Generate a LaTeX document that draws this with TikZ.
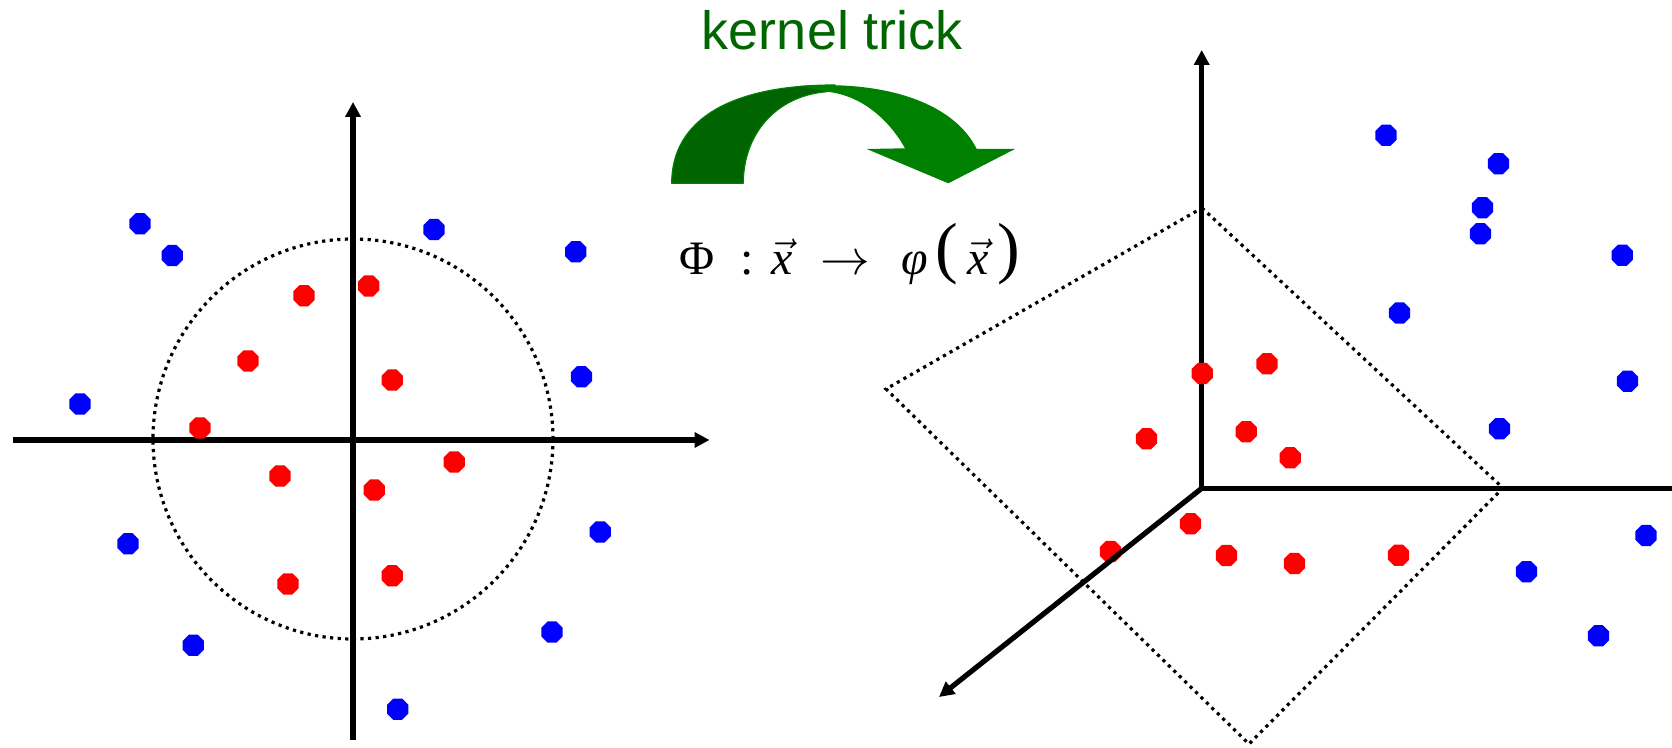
\documentclass[tikz,border=0pt]{standalone}
\usepackage{fontspec}
\setmainfont{Liberation Serif}
\newfontfamily\labelsans{Liberation Sans}
\usetikzlibrary{arrows.meta,shapes.geometric}
\definecolor{dotblue}{RGB}{0,0,255}
\definecolor{dotred}{RGB}{255,0,0}
\definecolor{arrowdark}{RGB}{0,100,0}
\definecolor{arrowlight}{RGB}{0,128,0}
\definecolor{textgreen}{RGB}{0,102,0}
\begin{document}
\begin{tikzpicture}[x=0.5pt,y=-0.5pt,
 axis/.style={line width=2.6pt,-{Triangle[length=7.5pt,width=7.5pt]}},
 axisplain/.style={line width=2.6pt},
 dotline/.style={line width=1.6pt,dash pattern=on 1.6pt off 2.2pt},
 bdot/.style={regular polygon,regular polygon sides=8,fill=dotblue,inner sep=0pt,minimum size=11.5pt},
 rdot/.style={bdot,fill=dotred},
 formula/.style={font=\fontsize{24}{29}\selectfont,inner sep=0pt,anchor=base},
 paren/.style={font=\fontsize{34}{40}\selectfont,inner sep=0pt,anchor=base}]
\useasboundingbox (0,0) rectangle (1672,748);

% ---------- left panel ----------
\node[circle,draw,dotline,minimum size=200pt,inner sep=0pt] (circ) at (353,439) {};
\coordinate (Lx0) at (12.7,440);
\coordinate (Lx1) at (709.5,440);
\coordinate (Ly0) at (353,740);
\coordinate (Ly1) at (353,102);
\draw[axis] (Lx0) -- (Lx1);
\draw[axis] (Ly0) -- (Ly1);

\node[bdot] (lb1) at (140.1,223.7) {};
\node[bdot] (lb2) at (172.2,255.6) {};
\node[bdot] (lb3) at (434.0,229.6) {};
\node[bdot] (lb4) at (575.8,251.8) {};
\node[bdot] (lb5) at (80.0,404.0) {};
\node[bdot] (lb6) at (581.4,376.7) {};
\node[bdot] (lb7) at (128.1,543.8) {};
\node[bdot] (lb8) at (600.2,531.9) {};
\node[bdot] (lb9) at (193.3,645.3) {};
\node[bdot] (lb10) at (552.0,632.1) {};
\node[bdot] (lb11) at (397.7,709.2) {};

\node[rdot] (lr1) at (304.0,295.7) {};
\node[rdot] (lr2) at (368.7,285.9) {};
\node[rdot] (lr3) at (248.0,360.9) {};
\node[rdot] (lr4) at (392.2,380.1) {};
\node[rdot] (lr5) at (200.0,427.9) {};
\node[rdot] (lr6) at (280.0,476.0) {};
\node[rdot] (lr7) at (374.2,490.1) {};
\node[rdot] (lr8) at (454.2,462.0) {};
\node[rdot] (lr9) at (287.9,583.9) {};
\node[rdot] (lr10) at (392.2,575.8) {};

% ---------- kernel trick arrow ----------
\filldraw[fill=arrowdark,draw=arrowlight,line width=0.6pt,line join=round]
  (671.7,183.3) .. controls (671.7,120) and (730,85) .. (835,85)
  -- (826.7,91.7) .. controls (775,96) and (743.3,135) .. (743.3,183.3) -- cycle;
\fill[arrowlight] (800,86) .. controls (890,80) and (955,105) .. (976.7,149)
  -- (1015,149) -- (948.3,183.3) -- (866.7,149) -- (905,148.3)
  .. controls (888,118) and (860,95) .. (826.7,91.7) -- cycle;
\node[font=\labelsans\fontsize{27}{32}\selectfont,text=textgreen,anchor=base,inner sep=0pt] (kt) at (832.5,50) {kernel trick};

% ---------- formula ----------
\node[formula] (fPhi) at (697,275) {Φ};
\node[formula] (fcolon) at (747.5,275) {:};
\node[formula] (fx1) at (782.5,275) {$\vec{\mbox{\itshape x}}$};
\node[formula] (fto) at (845,275) {$\rightarrow$};
\node[formula] (fphi) at (914.5,275) {\itshape φ};
\node[paren] (flp) at (947,271) {(};
\node[formula] (fx2) at (978,275) {$\vec{\mbox{\itshape x}}$};
\node[paren] (frp) at (1009,271) {)};

% ---------- right panel ----------
\coordinate (O) at (1201.7,488.3);
\coordinate (Rz) at (1201.7,50);
\coordinate (Rx) at (1672,488.3);
\coordinate (Rd) at (939,697);
\coordinate (Q1) at (1202,208);
\coordinate (Q2) at (1503,488);
\coordinate (Q3) at (1249,744);
\coordinate (Q4) at (886,389);
\draw[dotline] (Q1) -- (Q2) -- (Q3) -- (Q4) -- cycle;
\draw[axis] (O) -- (Rz);
\draw[axisplain] (O) -- (Rx);

\node[bdot] (rb1) at (1386.1,135.3) {};
\node[bdot] (rb2) at (1498.5,163.7) {};
\node[bdot] (rb3) at (1482.5,207.7) {};
\node[bdot] (rb4) at (1480.4,233.8) {};
\node[bdot] (rb5) at (1622.3,255.3) {};
\node[bdot] (rb6) at (1399.6,313.0) {};
\node[bdot] (rb7) at (1627.5,381.2) {};
\node[bdot] (rb8) at (1499.6,428.8) {};
\node[bdot] (rb9) at (1646.1,535.5) {};
\node[bdot] (rb10) at (1526.5,571.7) {};
\node[bdot] (rb11) at (1598.5,635.8) {};

\node[rdot] (rr1) at (1202.3,373.4) {};
\node[rdot] (rr2) at (1267.0,363.8) {};
\node[rdot] (rr3) at (1146.6,438.8) {};
\node[rdot] (rr4) at (1246.2,431.7) {};
\node[rdot] (rr5) at (1290.2,457.8) {};
\node[rdot] (rr6) at (1190.6,523.8) {};
\node[rdot] (rr7) at (1110.5,551.5) {};
\node[rdot] (rr8) at (1226.5,555.5) {};
\node[rdot] (rr9) at (1294.4,563.6) {};
\node[rdot] (rr10) at (1398.6,555.2) {};

\draw[axis] (O) -- (Rd);
\end{tikzpicture}
\end{document}
